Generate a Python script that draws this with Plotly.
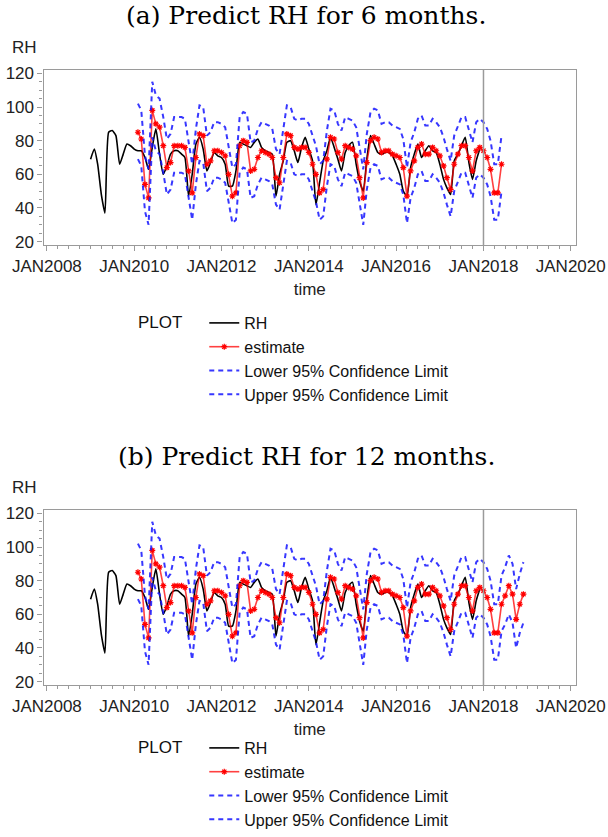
import pandas as pd
import plotly.graph_objects as go

# ---------------- data ----------------
rh_start = "2009-01-01"
rh_values = [69, 75, 66, 48, 37, 85, 86, 83, 66, 72, 78, 77,
             75, 74, 74, 70, 63, 76, 87, 72, 60, 65, 72, 74,
             74, 72, 70, 47, 60, 78, 82, 75, 62, 67, 73, 71,
             70, 66, 53, 53, 62, 79, 78, 77, 76, 79, 81, 76,
             74, 73, 72, 47, 60, 68, 79, 80, 74, 67, 76, 82,
             75, 68, 42, 55, 68, 74, 82, 76, 69, 62, 73, 77,
             79, 66, 56, 50, 69, 83, 78, 73, 72, 73, 73, 71,
             66, 60, 50, 47, 64, 72, 78, 70, 74, 77, 74, 73,
             66, 57, 52, 48, 68, 72, 77, 82, 67, 57, 68, 75]

est_start = "2010-02-01"
estimate = [85, 81, 54, 46, 98, 90, 88, 77, 64, 67, 77,
            77, 77, 76, 62, 49, 70, 84, 83, 66, 68, 74, 74,
            73, 71, 60, 47, 49, 77, 80, 79, 62, 63, 70, 74,
            73, 72, 70, 58, 55, 70, 84, 83, 76, 75, 76, 76,
            73, 66, 60, 49, 51, 69, 82, 81, 73, 69, 77, 76,
            75, 71, 58, 46, 67, 80, 82, 81, 73, 74, 74, 72,
            71, 70, 64, 47, 62, 68, 76, 78, 72, 72, 76, 74,
            71, 65, 58, 51, 66, 72, 77, 77, 70, 62, 74, 76,
            74, 70, 63, 49, 49, 66]
lower95 = [69, 65, 38, 30, 82, 74, 72, 61, 48, 51, 61,
           61, 61, 60, 46, 33, 54, 68, 67, 50, 52, 58, 58,
           57, 55, 44, 31, 33, 61, 64, 63, 46, 47, 54, 58,
           57, 56, 54, 42, 39, 54, 68, 67, 60, 59, 60, 60,
           57, 50, 44, 33, 35, 53, 66, 65, 57, 53, 61, 60,
           59, 55, 42, 30, 51, 64, 66, 65, 57, 58, 58, 56,
           55, 54, 48, 31, 46, 52, 60, 62, 56, 56, 60, 58,
           55, 49, 42, 35, 50, 56, 61, 61, 54, 46, 58, 60,
           58, 54, 47, 33, 33, 50]
upper95 = [102, 98, 71, 63, 115, 107, 105, 94, 81, 84, 94,
           94, 94, 93, 79, 66, 87, 101, 100, 83, 85, 91, 91,
           90, 88, 77, 64, 66, 94, 97, 96, 79, 80, 87, 91,
           90, 89, 87, 75, 72, 87, 101, 100, 93, 92, 93, 93,
           90, 83, 77, 66, 68, 86, 99, 98, 90, 86, 94, 93,
           92, 88, 75, 63, 84, 97, 99, 98, 90, 91, 91, 89,
           88, 87, 81, 64, 79, 85, 93, 95, 89, 89, 93, 91,
           88, 82, 75, 68, 83, 89, 94, 94, 87, 79, 91, 93,
           91, 87, 80, 66, 66, 83]
# extra forecast months in panel (b): Jul-Dec 2018
estimate_b_extra = [71, 77, 72, 57, 66, 72]
lower95_b_extra = [54, 60, 55, 40, 49, 55]
upper95_b_extra = [88, 95, 90, 75, 84, 91]

tick_dates = ["2008-01-01", "2010-01-01", "2012-01-01", "2014-01-01",
              "2016-01-01", "2018-01-01", "2020-01-01"]
tick_labels = ["JAN2008", "JAN2010", "JAN2012", "JAN2014",
               "JAN2016", "JAN2018", "JAN2020"]
y_ticks = [20, 40, 60, 80, 100, 120]
forecast_start = "2018-01-01"
titles = ["(a) Predict RH for 6 months.", "(b) Predict RH for 12 months."]

# ---------------- figure ----------------
W, H = 608, 837
rh_dates = pd.date_range(rh_start, periods=len(rh_values), freq="MS")

SANS = "Liberation Sans, Arial, sans-serif"
SERIF = "DejaVu Serif, serif"
GRAY = "#9a9a9a"
BLUE = "rgba(20,20,255,0.85)"

fig = go.Figure()

panels = [
    dict(est=estimate, lo=lower95, up=upper95, xa="x", ya="y", leg="legend"),
    dict(est=estimate + estimate_b_extra, lo=lower95 + lower95_b_extra,
         up=upper95 + upper95_b_extra, xa="x2", ya="y2", leg="legend2"),
]

for p in panels:
    ed = pd.date_range(est_start, periods=len(p["est"]), freq="MS")
    fig.add_trace(go.Scatter(x=rh_dates, y=rh_values, mode="lines", name="RH",
                             line=dict(color="black", width=1.6, shape="spline", smoothing=0.5),
                             xaxis=p["xa"], yaxis=p["ya"], legend=p["leg"]))
    fig.add_trace(go.Scatter(x=ed, y=p["est"], mode="lines+markers", name="estimate",
                             line=dict(color="rgba(255,0,0,0.75)", width=1.6),
                             marker=dict(symbol="asterisk-open", size=5, color="red",
                                         line=dict(color="red", width=1.2)),
                             xaxis=p["xa"], yaxis=p["ya"], legend=p["leg"]))
    fig.add_trace(go.Scatter(x=ed, y=p["lo"], mode="lines", name="Lower 95% Confidence Limit",
                             line=dict(color=BLUE, width=2, dash="5px,4px"),
                             xaxis=p["xa"], yaxis=p["ya"], legend=p["leg"]))
    fig.add_trace(go.Scatter(x=ed, y=p["up"], mode="lines", name="Upper 95% Confidence Limit",
                             line=dict(color=BLUE, width=2, dash="5px,4px"),
                             xaxis=p["xa"], yaxis=p["ya"], legend=p["leg"]))

xdom = [43.5 / W, 576 / W]
ydoms = [[1 - 245 / H, 1 - 70 / H], [1 - 685 / H, 1 - 510 / H]]

axis_common = dict(showline=True, linecolor=GRAY, linewidth=1.2, mirror=True,
                   showgrid=False, zeroline=False, ticks="outside", tickcolor=GRAY,
                   ticklen=5, automargin=False,
                   tickfont=dict(family=SANS, size=17, color="#222"))

layout = dict(width=W, height=H, margin=dict(l=0, r=0, t=0, b=0),
              paper_bgcolor="white", plot_bgcolor="white", showlegend=True)

for i, suffix in enumerate(["", "2"]):
    layout["xaxis" + suffix] = dict(
        axis_common, domain=xdom, anchor="y" + suffix, type="date",
        range=["2007-12-04", "2020-02-14"], tickmode="array",
        tickvals=tick_dates, ticktext=tick_labels,
        minor=dict(dtick="M3", tick0="2008-01-01", ticks="outside", ticklen=3, tickcolor=GRAY),
        title=dict(text="time", font=dict(family=SANS, size=17, color="#222"), standoff=8))
    layout["yaxis" + suffix] = dict(
        axis_common, domain=ydoms[i], anchor="x" + suffix, range=[18, 122],
        tickmode="array", tickvals=y_ticks,
        minor=dict(dtick=5, tick0=0, ticks="outside", ticklen=3, tickcolor=GRAY))

legend_common = dict(font=dict(family=SANS, size=16, color="#111"), bgcolor="rgba(0,0,0,0)",
                     xanchor="left", itemwidth=30, tracegroupgap=0,
                     traceorder="normal",
                     title=dict(text="PLOT   ", side="left", font=dict(family=SANS, size=17, color="#111")))
layout["legend"] = dict(legend_common, x=136 / W, y=1 - 306 / H, yanchor="top")
layout["legend2"] = dict(legend_common, x=136 / W, y=0, yanchor="bottom")

fig.update_layout(**layout)

for i, t in enumerate(titles):
    yc = [16, 456][i]
    fig.add_annotation(text=t, xref="paper", yref="paper", x=306 / W, y=1 - yc / H,
                       showarrow=False, xanchor="center", yanchor="middle",
                       font=dict(family=SERIF, size=25, color="black"))
    fig.add_annotation(text="RH", xref="paper", yref="paper", x=10 / W, y=1 - [47, 487][i] / H,
                       showarrow=False, xanchor="left", yanchor="middle",
                       font=dict(family=SANS, size=17, color="#222"))

for suffix in ["", "2"]:
    fig.add_shape(type="line", xref="x" + suffix, yref=("y" + suffix) + " domain",
                  x0=forecast_start, x1=forecast_start, y0=0, y1=1,
                  line=dict(color=GRAY, width=1.5))

fig.write_html("out.html", config={"displayModeBar": False},
               post_script="document.body.style.margin='0';document.body.style.overflow='hidden';")
